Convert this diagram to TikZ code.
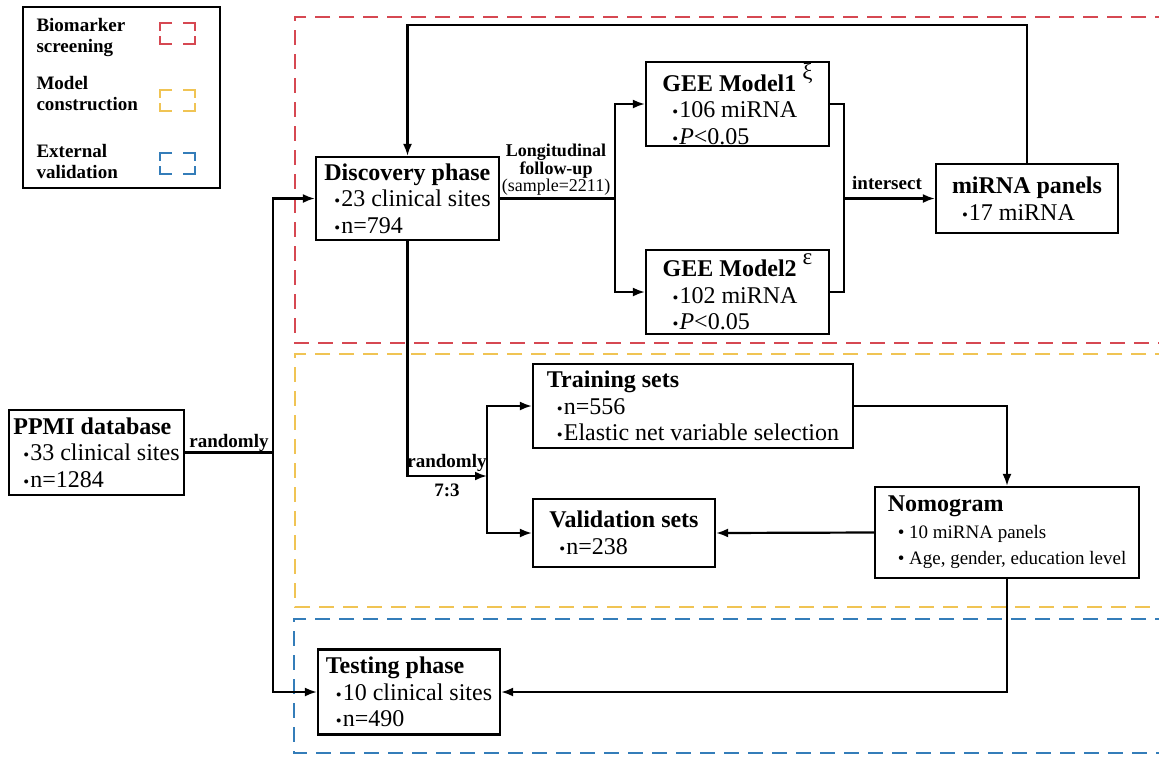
\documentclass[tikz,border=0pt]{standalone}
\usepackage{fontspec}
\setmainfont{Liberation Serif}
\usetikzlibrary{arrows.meta}
\definecolor{bmred}{RGB}{214,72,82}
\definecolor{bmyellow}{RGB}{240,196,84}
\definecolor{bmblue}{RGB}{52,125,185}
\newcommand{\itm}{\hspace*{10pt}\scalebox{0.7}{\textbullet}\hspace{1pt}}
\newcommand{\nitm}{\fontsize{19}{24}\selectfont\hspace*{10pt}\textbullet\ }
\newcommand{\supmark}[1]{\raisebox{1.1ex}{\fontsize{23}{23}\selectfont #1}}

\begin{document}
\begin{tikzpicture}[x=1pt,y=-1pt,
	box/.style={draw,line width=2.2pt,align=left,inner sep=0pt,font=\fontsize{24}{26.5}\selectfont},
	conn/.style={line width=2.2pt},
	arr/.style={line width=2.2pt,-{Latex[length=12pt,width=9pt]}},
	lab/.style={align=center,font=\fontsize{19}{21}\selectfont\bfseries},
	zone/.style={line width=2.2pt,dash pattern=on 15pt off 9pt},
	corner/.style={line width=2.2pt}]
	\useasboundingbox (0,0) rectangle (1159,756);
	\draw[zone,bmred] (1170,17) -- (295,17) -- (295,343) -- (1170,343);
	\draw[zone,bmyellow] (1170,354) -- (295,354) -- (295,607) -- (1170,607);
	\draw[zone,bmblue] (1170,619) -- (294,619) -- (294,753) -- (1170,753);
	\draw[conn] (23,7) rectangle (220,188);
	\node[lab,align=left,anchor=west] (bio) at (33,37.5) {Biomarker\\screening};
	\node[lab,align=left,anchor=west] (model) at (33,93.5) {Model\\construction};
	\node[lab,align=left,anchor=west] (ext) at (33,161.5) {External\\validation};
	\foreach \y/\c in {23/bmred,90/bmyellow,153/bmblue} {
		\draw[corner,\c] (172,\y) -| (160,\y+8);
		\draw[corner,\c] (183,\y) -| (195,\y+8);
		\draw[corner,\c] (160,\y+13) |- (172,\y+21);
		\draw[corner,\c] (195,\y+13) |- (183,\y+21);
	}
	\node[box,minimum width=175pt,minimum height=85pt] (ppmi) at (96.5,452.5) {\textbf{PPMI database}\\\itm 33 clinical sites\\\itm n=1284};
	\node[box,minimum width=183pt,minimum height=83pt] (disc) at (407.5,198.5) {\textbf{Discovery phase}\\\itm 23 clinical sites\\\itm n=794};
	\node[box,minimum width=183pt,minimum height=84pt] (gee1) at (737.5,104) {\textbf{GEE Model1} \supmark{ξ}\\\itm 106 miRNA\\\itm \textit{P}<0.05};
	\node[box,minimum width=183pt,minimum height=84pt] (gee2) at (737.5,292) {\textbf{GEE Model2} \supmark{ε}\\\itm 102 miRNA\\\itm \textit{P}<0.05};
	\node[box,minimum width=182pt,minimum height=69pt] (mirna) at (1027,198.5) {\textbf{miRNA panels}\\\itm 17 miRNA};
	\node[box,minimum width=320pt,minimum height=84pt] (train) at (693,406) {\textbf{Training sets}\\\itm n=556\\\itm Elastic net variable selection};
	\node[box,minimum width=182pt,minimum height=68pt] (valid) at (624,533) {\textbf{Validation sets}\\\itm n=238};
	\node[box,minimum width=264pt,minimum height=91pt] (nomo) at (1007,532.5) {\textbf{Nomogram}\\\nitm 10 miRNA panels\\\nitm Age, gender, education level};
	\node[box,minimum width=182pt,minimum height=85pt] (test) at (409,692) {\textbf{Testing phase}\\\itm 10 clinical sites\\\itm n=490};
	\coordinate (rand) at (273,452.5);
	\coordinate (split) at (615,198.5);
	\coordinate (merge) at (844,198.5);
	\coordinate (loop) at (700,25);
	\coordinate (fork) at (487,476);
	\draw[conn] (ppmi.east) -- (rand);
	\draw[arr] (rand) |- (disc.west);
	\draw[arr] (rand) |- (test.west);
	\draw[conn] (disc.east) -- (split);
	\draw[arr] (split) |- (gee1.west);
	\draw[arr] (split) |- (gee2.west);
	\draw[conn] (gee1.east) -| (merge);
	\draw[conn] (gee2.east) -| (merge);
	\draw[arr] (merge) -- (mirna.west);
	\draw[arr] (mirna.north) |- (loop) -| (disc.north);
	\draw[arr] (disc.south) |- (fork);
	\draw[arr] (fork) |- (train.west);
	\draw[arr] (fork) |- (valid.west);
	\draw[arr] (train.east) -| (nomo.north);
	\draw[arr] (nomo.west) -- (valid.east);
	\draw[arr] (nomo.south) |- (test.east);
	\node[lab,font=\fontsize{18}{17.5}\selectfont] (follow) at (556,170) {\textbf{Longitudinal}\\\textbf{follow-up}\\(sample=2211)};
	\node[lab] (inter) at (887,183) {intersect};
	\node[lab] (rnd1) at (229,443) {randomly};
	\node[lab] (rnd2) at (447,463) {randomly};
	\node[lab] (ratio) at (447,490) {7:3};
\end{tikzpicture}
\end{document}
